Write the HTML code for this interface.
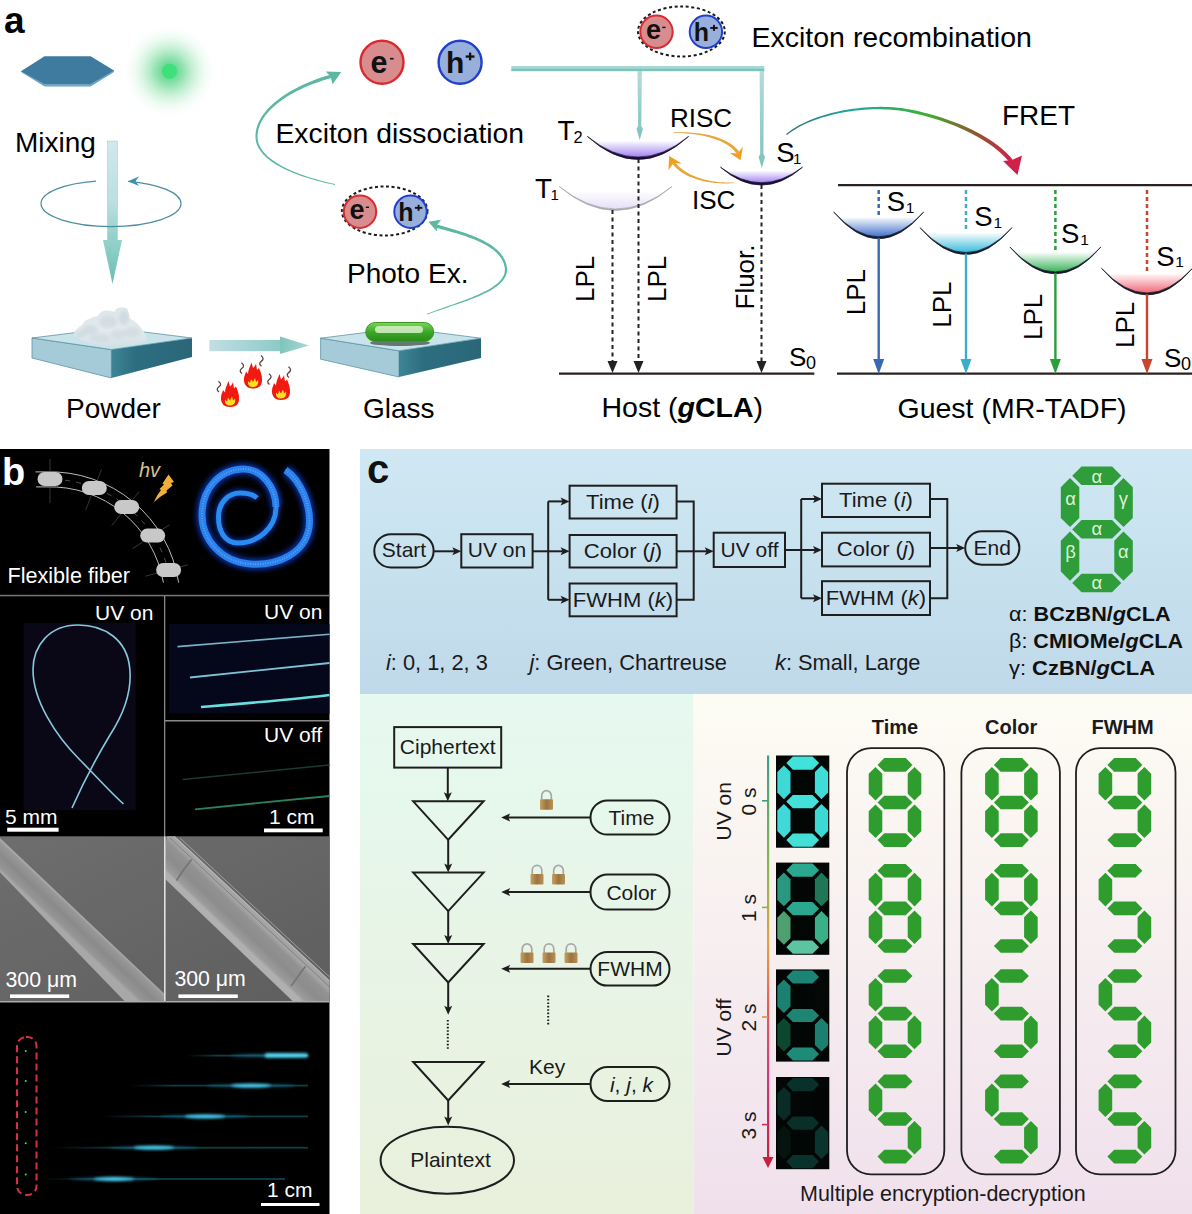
<!DOCTYPE html>
<html><head><meta charset="utf-8"><style>html,body{margin:0;padding:0;background:#fff;}svg{display:block;}</style></head>
<body><svg width="1192" height="1214" viewBox="0 0 1192 1214">
<defs>
<radialGradient id="glow" cx="0.5" cy="0.5" r="0.5"><stop offset="0" stop-color="#30d070" stop-opacity="0.95"/><stop offset="0.3" stop-color="#50d080" stop-opacity="0.6"/><stop offset="0.7" stop-color="#a0e8b8" stop-opacity="0.2"/><stop offset="1" stop-color="#fff" stop-opacity="0"/></radialGradient>
<linearGradient id="rodg" x1="0" y1="0" x2="0" y2="1"><stop offset="0" stop-color="#d2e8ec"/><stop offset="0.6" stop-color="#bcdfe2"/><stop offset="1" stop-color="#90cfc8"/></linearGradient>
<linearGradient id="headg" x1="0" y1="0" x2="0" y2="1"><stop offset="0" stop-color="#94d2ca"/><stop offset="1" stop-color="#68bfb0"/></linearGradient>
<linearGradient id="vrod" x1="0" y1="0" x2="0" y2="1"><stop offset="0" stop-color="#b4dcda"/><stop offset="1" stop-color="#7cc4bc"/></linearGradient>
<linearGradient id="blockR" x1="0" y1="0" x2="1" y2="0"><stop offset="0" stop-color="#3d8596"/><stop offset="0.3" stop-color="#2c6e80"/><stop offset="1" stop-color="#2a6678"/></linearGradient>
<linearGradient id="cloudg" x1="0" y1="0" x2="0" y2="1"><stop offset="0" stop-color="#dde6ea"/><stop offset="0.6" stop-color="#e4eaee"/><stop offset="1" stop-color="#d6e2e6"/></linearGradient>
<linearGradient id="harrow" x1="0" y1="0" x2="1" y2="0"><stop offset="0" stop-color="#c2dee4"/><stop offset="1" stop-color="#8ccac6"/></linearGradient>
<linearGradient id="harrowh" x1="0" y1="0" x2="1" y2="0"><stop offset="0" stop-color="#80c4bc"/><stop offset="1" stop-color="#a8d8d4"/></linearGradient>
<linearGradient id="pillg" x1="0" y1="0" x2="0" y2="1"><stop offset="0" stop-color="#7ad858"/><stop offset="0.5" stop-color="#3aa828"/><stop offset="1" stop-color="#2a8a18"/></linearGradient>
<linearGradient id="fretg" x1="0" y1="0" x2="1" y2="0"><stop offset="0" stop-color="#2a6f7a"/><stop offset="0.3" stop-color="#22a8a0"/><stop offset="0.62" stop-color="#3cb030"/><stop offset="0.85" stop-color="#985030"/><stop offset="1" stop-color="#d02048"/></linearGradient>
<linearGradient id="streak" x1="0" y1="0" x2="1" y2="0"><stop offset="0" stop-color="#0a2a30" stop-opacity="0"/><stop offset="0.25" stop-color="#0e3e48"/><stop offset="1" stop-color="#0e4048"/></linearGradient>
<linearGradient id="lockg" x1="0" y1="0" x2="1" y2="0"><stop offset="0" stop-color="#c8a060"/><stop offset="0.5" stop-color="#9a7440"/><stop offset="1" stop-color="#b89058"/></linearGradient>
<linearGradient id="bluebg" x1="0" y1="0" x2="0" y2="1"><stop offset="0" stop-color="#cfe8f3"/><stop offset="1" stop-color="#c0d9ea"/></linearGradient>
<linearGradient id="greenbg" x1="0" y1="0" x2="0" y2="1"><stop offset="0" stop-color="#e6f9f0"/><stop offset="1" stop-color="#e9f0dc"/></linearGradient>
<linearGradient id="pinkbg" x1="0" y1="0" x2="0" y2="1"><stop offset="0" stop-color="#fdfcf3"/><stop offset="1" stop-color="#f0e0ec"/></linearGradient>
<linearGradient id="tlg" x1="0" y1="0" x2="0" y2="1"><stop offset="0" stop-color="#3aa08c"/><stop offset="0.3" stop-color="#90b848"/><stop offset="0.47" stop-color="#e8a040"/><stop offset="0.62" stop-color="#e06058"/><stop offset="0.8" stop-color="#d03880"/><stop offset="1" stop-color="#c82040"/></linearGradient>
<linearGradient id="semBg" x1="0" y1="0" x2="1" y2="1"><stop offset="0" stop-color="#6e6e6e"/><stop offset="1" stop-color="#5e5e5e"/></linearGradient>
<filter id="blur1" x="-50%" y="-200%" width="200%" height="500%"><feGaussianBlur stdDeviation="1.5"/></filter>
<filter id="blur2" x="-20%" y="-20%" width="140%" height="140%"><feGaussianBlur stdDeviation="2.5"/></filter>
</defs>
<rect width="1192" height="1214" fill="#fff"/>
<text x="3.9" y="33.1" font-family="Liberation Sans" font-size="37" font-weight="bold" fill="#000">a</text>
<polygon points="21,72 44.5,86.5 90.6,86.5 114,72 114,70.5 21,71" fill="#6fa6c4"/>
<polygon points="21,71.3 44.5,56.2 90.6,56.2 114,70.5 90.6,84 44.5,84" fill="#3f7a9f"/>
<circle cx="169.5" cy="71.3" r="48" fill="url(#glow)"/>
<circle cx="169.5" cy="71.3" r="7.5" fill="#3ee07a"/>
<text x="15" y="152" font-family="Liberation Sans" font-size="28">Mixing</text>
<path d="M96,181.1 A70,23 0 0 0 41,203.6" fill="none" stroke="#4a8fa0" stroke-width="1.3"/>
<path d="M128,181.3 A70,23 0 0 1 181,203.6" fill="none" stroke="#4a8fa0" stroke-width="1.3"/>
<rect x="107.4" y="141" width="10" height="100" fill="url(#rodg)" stroke="#a8cfd2" stroke-width="0.6"/>
<polygon points="103,240 122,240 112.5,284" fill="url(#headg)"/>
<path d="M41,203.6 A70,23 0 0 0 181,203.6" fill="none" stroke="#4a8fa0" stroke-width="1.3"/>
<polygon points="128,181.3 139,176.5 135.5,181.3 139,186" fill="#3f8fae"/>
<polygon points="32,338 111.4,349.6 111.4,378 32,358" fill="#a5cbd8" stroke="#5d93a6" stroke-width="0.8"/>
<polygon points="111.4,349.6 192,338 192,357 111.4,378" fill="url(#blockR)"/>
<polygon points="32,338 112,328 192,338 111.4,349.6" fill="#c9e3ea" stroke="#5d93a6" stroke-width="0.8"/>
<path d="M73.4,334.4 C76,329 79,326 81.8,325.2 C84,321 86,320 88.5,319.3 C92,317 95,316.5 97.7,316 C100,312 103,310.5 105.3,310.5 C109,310 112,311.5 114.5,311.8 C116,309 118,307.6 120.4,307.6 C124,307 126,308 127.1,308.4 C129,312 129,316 129.6,318.5 C134,320 137,323 139.7,326 C143,330 146,335 147.2,338.6 C146,341 145,342 143.9,342 C130,345 118,345.3 110.3,345.3 C95,345 80,342 73.4,334.4 Z" fill="url(#cloudg)"/>
<ellipse cx="90" cy="330" rx="8" ry="5" fill="#b4c4cc" opacity="0.35" filter="url(#blur1)"/>
<ellipse cx="108" cy="322" rx="9" ry="6" fill="#b4c4cc" opacity="0.3" filter="url(#blur1)"/>
<ellipse cx="124" cy="318" rx="5" ry="7" fill="#b4c4cc" opacity="0.35" filter="url(#blur1)"/>
<ellipse cx="132" cy="332" rx="9" ry="5" fill="#b4c4cc" opacity="0.3" filter="url(#blur1)"/>
<ellipse cx="100" cy="338" rx="10" ry="4" fill="#b4c4cc" opacity="0.25" filter="url(#blur1)"/>
<ellipse cx="80" cy="334" rx="5" ry="4" fill="#b4c4cc" opacity="0.3" filter="url(#blur1)"/>
<ellipse cx="118" cy="334" rx="7" ry="5" fill="#b4c4cc" opacity="0.25" filter="url(#blur1)"/>
<text x="66" y="418.4" font-family="Liberation Sans" font-size="28">Powder</text>
<rect x="209.4" y="340" width="72" height="11.2" fill="url(#harrow)"/>
<polygon points="280,336.6 309,345.6 280,354" fill="url(#harrowh)"/>
<g transform="translate(230,407)"><path d="M0,0 C-7,0 -9.5,-5 -9,-10 C-8.7,-13 -7.5,-14.5 -7,-17 L-5,-14.5 C-5,-18 -3.5,-21 -1.5,-26 L0,-20.5 C1.5,-22 2.5,-23 3,-25 L4,-18.5 L6,-20.5 C8,-16 9.3,-12 9,-8 C9,-3 6,0 0,0 Z" fill="#f01a10"/><path d="M0,-1.5 C-4,-1.5 -5.5,-4 -5,-7.5 L-3,-5.5 L-2,-9.5 L0,-6.5 L2,-10.5 L3,-6.5 L5,-8.5 C6,-4.5 4,-1.5 0,-1.5 Z" fill="#ffe020"/></g>
<g transform="translate(253,388.6)"><path d="M0,0 C-7,0 -9.5,-5 -9,-10 C-8.7,-13 -7.5,-14.5 -7,-17 L-5,-14.5 C-5,-18 -3.5,-21 -1.5,-26 L0,-20.5 C1.5,-22 2.5,-23 3,-25 L4,-18.5 L6,-20.5 C8,-16 9.3,-12 9,-8 C9,-3 6,0 0,0 Z" fill="#f01a10"/><path d="M0,-1.5 C-4,-1.5 -5.5,-4 -5,-7.5 L-3,-5.5 L-2,-9.5 L0,-6.5 L2,-10.5 L3,-6.5 L5,-8.5 C6,-4.5 4,-1.5 0,-1.5 Z" fill="#ffe020"/></g>
<g transform="translate(281,400)"><path d="M0,0 C-7,0 -9.5,-5 -9,-10 C-8.7,-13 -7.5,-14.5 -7,-17 L-5,-14.5 C-5,-18 -3.5,-21 -1.5,-26 L0,-20.5 C1.5,-22 2.5,-23 3,-25 L4,-18.5 L6,-20.5 C8,-16 9.3,-12 9,-8 C9,-3 6,0 0,0 Z" fill="#f01a10"/><path d="M0,-1.5 C-4,-1.5 -5.5,-4 -5,-7.5 L-3,-5.5 L-2,-9.5 L0,-6.5 L2,-10.5 L3,-6.5 L5,-8.5 C6,-4.5 4,-1.5 0,-1.5 Z" fill="#ffe020"/></g>
<path d="M219,392 c-2.6,-2 -2.2,-3.6 0,-5.2 c2.2,-1.6 2.2,-3.6 -0.6,-5.6" fill="none" stroke="#5a4444" stroke-width="1.3"/>
<path d="M242,373.5 c-2.6,-2 -2.2,-3.6 0,-5.2 c2.2,-1.6 2.2,-3.6 -0.6,-5.6" fill="none" stroke="#5a4444" stroke-width="1.3"/>
<path d="M261.5,366.3 c-2.6,-2 -2.2,-3.6 0,-5.2 c2.2,-1.6 2.2,-3.6 -0.6,-5.6" fill="none" stroke="#5a4444" stroke-width="1.3"/>
<path d="M269.5,384.5 c-2.6,-2 -2.2,-3.6 0,-5.2 c2.2,-1.6 2.2,-3.6 -0.6,-5.6" fill="none" stroke="#5a4444" stroke-width="1.3"/>
<path d="M289,377.6 c-2.6,-2 -2.2,-3.6 0,-5.2 c2.2,-1.6 2.2,-3.6 -0.6,-5.6" fill="none" stroke="#5a4444" stroke-width="1.3"/>
<polygon points="320.6,338.2 399,350.8 399,377 320.6,359.2" fill="#a5cbd8" stroke="#5d93a6" stroke-width="0.8"/>
<polygon points="399,350.8 481,338.2 481,358 399,377" fill="url(#blockR)"/>
<polygon points="320.6,338.2 401,328 481,338.2 399,350.8" fill="#c9e3ea" stroke="#5d93a6" stroke-width="0.8"/>
<ellipse cx="400" cy="343" rx="30" ry="3" fill="#203020" opacity="0.6"/>
<rect x="365.7" y="322.5" width="68" height="19" rx="9.5" fill="url(#pillg)" stroke="#3a9a20" stroke-width="1"/>
<rect x="375" y="326" width="48" height="7" rx="3.5" fill="#d8f0c8" opacity="0.85"/>
<text x="363" y="418" font-family="Liberation Sans" font-size="28">Glass</text>
<circle cx="382" cy="62.3" r="21.5" fill="#d98c8e" stroke="#d82a30" stroke-width="2.4"/><circle cx="460.1" cy="62.3" r="21.5" fill="#98aedb" stroke="#2040cc" stroke-width="2.4"/><text x="370.5" y="72.89999999999999" font-family="Liberation Sans" font-size="30.5" font-weight="bold" fill="#111">e</text><rect x="390" y="57.9" width="3.6" height="1.6" fill="#111"/><text x="446.0" y="72.6" font-family="Liberation Sans" font-size="30" font-weight="bold" fill="#111">h</text><rect x="465.70000000000005" y="55.4" width="8.8" height="2.3" fill="#111"/><rect x="468.95000000000005" y="52.599999999999994" width="2.3" height="7.7" fill="#111"/>
<text x="275.5" y="142.8" font-family="Liberation Sans" font-size="28.3">Exciton dissociation</text>
<path d="M335.09,184.11 L331.10,183.21 L327.12,182.26 L323.16,181.26 L319.23,180.21 L315.34,179.11 L311.49,177.95 L307.71,176.75 L303.98,175.49 L300.34,174.19 L296.77,172.83 L293.31,171.42 L289.94,169.96 L286.69,168.44 L283.56,166.88 L280.56,165.26 L277.71,163.59 L275.00,161.87 L272.45,160.09 L270.08,158.27 L267.88,156.40 L265.87,154.48 L264.06,152.51 L262.45,150.49 L261.05,148.43 L259.88,146.32 L258.93,144.17 L258.21,141.97 L257.74,139.72 L257.51,137.42 L257.54,135.06 L257.82,132.47 L258.31,129.91 L259.02,127.39 L259.94,124.90 L261.06,122.45 L262.37,120.03 L263.87,117.65 L265.55,115.31 L267.40,113.01 L269.42,110.76 L271.59,108.55 L273.92,106.39 L276.39,104.28 L278.99,102.22 L281.72,100.21 L284.57,98.25 L287.52,96.36 L290.59,94.52 L293.74,92.74 L296.99,91.03 L300.31,89.38 L303.70,87.79 L307.16,86.27 L310.67,84.82 L314.23,83.44 L317.83,82.13 L321.45,80.89 L325.10,79.73 L328.77,78.65 L332.46,77.64 L331.54,74.36 L327.83,75.43 L324.12,76.58 L320.42,77.81 L316.74,79.12 L313.10,80.50 L309.50,81.95 L305.94,83.47 L302.44,85.06 L299.01,86.73 L295.64,88.45 L292.36,90.25 L289.16,92.10 L286.05,94.02 L283.05,96.00 L280.16,98.04 L277.38,100.14 L274.73,102.30 L272.22,104.51 L269.84,106.77 L267.62,109.09 L265.55,111.46 L263.65,113.89 L261.92,116.36 L260.38,118.88 L259.03,121.45 L257.88,124.07 L256.93,126.73 L256.21,129.43 L255.72,132.17 L255.46,134.94 L255.46,137.52 L255.74,140.04 L256.29,142.50 L257.10,144.88 L258.16,147.19 L259.44,149.43 L260.95,151.61 L262.68,153.71 L264.60,155.74 L266.71,157.71 L269.01,159.62 L271.47,161.46 L274.10,163.24 L276.88,164.96 L279.81,166.62 L282.87,168.22 L286.06,169.76 L289.37,171.25 L292.78,172.68 L296.30,174.06 L299.90,175.38 L303.59,176.65 L307.35,177.86 L311.17,179.02 L315.05,180.13 L318.97,181.19 L322.92,182.19 L326.91,183.14 L330.91,184.04 L334.91,184.89 Z" fill="#5cb8a2"/>
<polygon points="341.3,72.1 325.7,71.5 330.5,76.5 332.6,84.2" fill="#5cb8a2"/>
<ellipse cx="384.7" cy="211" rx="42.8" ry="24.5" fill="none" stroke="#1a1a1a" stroke-width="2" stroke-dasharray="3,2.6"/>
<circle cx="360" cy="211.7" r="16.2" fill="#d98c8e" stroke="#d82a30" stroke-width="2.0"/><circle cx="410.5" cy="211.7" r="16.2" fill="#98aedb" stroke="#2040cc" stroke-width="2.0"/><text x="349.5" y="219.29999999999998" font-family="Liberation Sans" font-size="27" font-weight="bold" fill="#111">e</text><rect x="365.8" y="206.6" width="3.2" height="1.4" fill="#111"/><text x="398.3" y="220.5" font-family="Liberation Sans" font-size="25" font-weight="bold" fill="#111">h</text><rect x="414.9" y="206.89999999999998" width="7.4" height="1.9" fill="#111"/><rect x="417.65" y="204.79999999999998" width="1.9" height="6" fill="#111"/>
<text x="347" y="283.4" font-family="Liberation Sans" font-size="28">Photo Ex.</text>
<path d="M427.04,314.58 L430.87,313.20 L434.72,311.84 L438.59,310.51 L442.45,309.19 L446.31,307.89 L450.14,306.60 L453.93,305.31 L457.69,304.02 L461.39,302.74 L465.02,301.44 L468.58,300.14 L472.04,298.83 L475.41,297.50 L478.68,296.14 L481.82,294.77 L484.83,293.36 L487.70,291.92 L490.41,290.44 L492.97,288.92 L495.35,287.36 L497.55,285.74 L499.55,284.06 L501.35,282.32 L502.93,280.50 L504.28,278.61 L505.38,276.64 L506.22,274.58 L506.77,272.43 L507.03,270.20 L506.98,267.89 L506.59,265.51 L505.99,263.23 L505.20,261.04 L504.22,258.93 L503.06,256.90 L501.73,254.95 L500.23,253.08 L498.57,251.29 L496.77,249.56 L494.82,247.91 L492.74,246.32 L490.54,244.79 L488.21,243.32 L485.77,241.91 L483.22,240.55 L480.57,239.23 L477.83,237.97 L474.99,236.74 L472.08,235.56 L469.09,234.41 L466.03,233.30 L462.91,232.21 L459.73,231.16 L456.50,230.13 L453.23,229.13 L449.92,228.14 L446.58,227.18 L443.21,226.23 L439.83,225.29 L436.44,224.36 L435.56,227.64 L438.96,228.52 L442.34,229.41 L445.71,230.31 L449.04,231.22 L452.34,232.15 L455.59,233.10 L458.81,234.07 L461.96,235.07 L465.06,236.09 L468.09,237.15 L471.04,238.23 L473.92,239.35 L476.71,240.51 L479.41,241.71 L482.00,242.95 L484.49,244.24 L486.87,245.57 L489.13,246.95 L491.26,248.38 L493.27,249.87 L495.13,251.41 L496.85,253.00 L498.42,254.66 L499.84,256.38 L501.09,258.16 L502.18,260.00 L503.11,261.92 L503.86,263.91 L504.43,265.98 L504.82,268.11 L504.89,270.12 L504.69,272.06 L504.24,273.94 L503.52,275.76 L502.57,277.54 L501.36,279.28 L499.92,280.98 L498.26,282.64 L496.38,284.26 L494.29,285.84 L492.00,287.39 L489.53,288.91 L486.89,290.40 L484.09,291.85 L481.13,293.28 L478.04,294.69 L474.83,296.08 L471.50,297.45 L468.07,298.81 L464.54,300.16 L460.94,301.50 L457.27,302.83 L453.54,304.17 L449.76,305.51 L445.95,306.86 L442.11,308.22 L438.27,309.59 L434.42,310.98 L430.58,312.39 L426.76,313.82 Z" fill="#5cb8a2"/>
<polygon points="428.3,221.8 441.2,219.8 436.5,225.5 437.2,231.7" fill="#5cb8a2"/>
<ellipse cx="681.4" cy="31.5" rx="43.4" ry="25" fill="none" stroke="#1a1a1a" stroke-width="2" stroke-dasharray="3,2.6"/>
<circle cx="656.5" cy="31.8" r="16.2" fill="#d98c8e" stroke="#d82a30" stroke-width="2.0"/><circle cx="705.9" cy="31.8" r="16.2" fill="#98aedb" stroke="#2040cc" stroke-width="2.0"/><text x="646.0" y="39.4" font-family="Liberation Sans" font-size="27" font-weight="bold" fill="#111">e</text><rect x="662.3" y="26.700000000000003" width="3.2" height="1.4" fill="#111"/><text x="693.6999999999999" y="40.6" font-family="Liberation Sans" font-size="25" font-weight="bold" fill="#111">h</text><rect x="710.3" y="27.0" width="7.4" height="1.9" fill="#111"/><rect x="713.05" y="24.9" width="1.9" height="6" fill="#111"/>
<text x="751.5" y="47.3" font-family="Liberation Sans" font-size="28.5">Exciton recombination</text>
<rect x="511.3" y="66" width="253" height="2.6" fill="#a6d8d4"/>
<rect x="511.3" y="68.4" width="253" height="2.8" fill="#7cc4bc"/>
<polygon points="637.5,71 641.9000000000001,71 641.3000000000001,126 642.9000000000001,129 639.7,140 636.5,129 638.1,126" fill="url(#vrod)"/>
<polygon points="759.5999999999999,71 764.0,71 763.4,154 765.0,157 761.8,168 758.5999999999999,157 760.1999999999999,154" fill="url(#vrod)"/>
<defs><linearGradient id="pg6380_1364" x1="0" y1="0" x2="0" y2="1"><stop offset="0" stop-color="#9a7af0" stop-opacity="0"/><stop offset="0.2" stop-color="#9a7af0" stop-opacity="0"/><stop offset="0.28" stop-color="#9a7af0" stop-opacity="0.12"/><stop offset="1" stop-color="#9a7af0" stop-opacity="1.0"/></linearGradient></defs><path d="M587.4,136.4 Q638,180.20000000000002 688.6,136.4 Z" fill="url(#pg6380_1364)"/><path d="M587.4,136.4 Q638,182.60000000000002 688.6,136.4 Q638,177.8 587.4,136.4 Z" fill="#1a0f30" stroke="#1a0f30" stroke-width="0.7"/>
<defs><linearGradient id="pg6156_1865" x1="0" y1="0" x2="0" y2="1"><stop offset="0" stop-color="#c4b4f0" stop-opacity="0"/><stop offset="0.2" stop-color="#c4b4f0" stop-opacity="0"/><stop offset="0.28" stop-color="#c4b4f0" stop-opacity="0.054"/><stop offset="1" stop-color="#c4b4f0" stop-opacity="0.45"/></linearGradient></defs><path d="M559.2,186.5 Q615.6,232.89999999999998 672.0,186.5 Z" fill="url(#pg6156_1865)"/><path d="M559.2,186.5 Q615.6,234.29999999999998 672.0,186.5 Q615.6,231.49999999999997 559.2,186.5 Z" fill="#a8a8b0" stroke="#a8a8b0" stroke-width="0.7"/>
<defs><linearGradient id="pg7615_1672" x1="0" y1="0" x2="0" y2="1"><stop offset="0" stop-color="#9a7af0" stop-opacity="0"/><stop offset="0.2" stop-color="#9a7af0" stop-opacity="0"/><stop offset="0.28" stop-color="#9a7af0" stop-opacity="0.12"/><stop offset="1" stop-color="#9a7af0" stop-opacity="1.0"/></linearGradient></defs><path d="M720.5,167.2 Q761.5,200.60000000000002 802.5,167.2 Z" fill="url(#pg7615_1672)"/><path d="M720.5,167.2 Q761.5,203.00000000000003 802.5,167.2 Q761.5,198.20000000000002 720.5,167.2 Z" fill="#1a0f30" stroke="#1a0f30" stroke-width="0.7"/>
<text x="557.6" y="139.7" font-family="Liberation Sans" font-size="27.8">T</text><text x="573.5" y="142.7" font-family="Liberation Sans" font-size="16.4">2</text>
<text x="535" y="198.1" font-family="Liberation Sans" font-size="27.8">T</text><text x="550.6" y="200.1" font-family="Liberation Sans" font-size="15">1</text>
<text x="776.2" y="162.4" font-family="Liberation Sans" font-size="27.5">S</text><text x="792.9" y="164.2" font-family="Liberation Sans" font-size="15">1</text>
<text x="670" y="127" font-family="Liberation Sans" font-size="26">RISC</text>
<text x="692" y="209" font-family="Liberation Sans" font-size="26">ISC</text>
<path d="M673.40,132.90 L676.07,132.91 L678.73,132.97 L681.39,133.07 L684.05,133.21 L686.69,133.41 L689.32,133.65 L691.94,133.93 L694.53,134.26 L697.09,134.64 L699.62,135.07 L702.12,135.54 L704.57,136.07 L706.98,136.64 L709.34,137.26 L711.64,137.93 L713.89,138.65 L716.07,139.42 L718.19,140.24 L720.23,141.11 L722.20,142.03 L724.08,143.00 L725.88,144.02 L727.59,145.08 L729.20,146.20 L730.71,147.36 L732.12,148.57 L733.43,149.83 L734.62,151.14 L735.70,152.49 L736.70,153.94 L739.30,152.06 L738.18,150.57 L736.91,149.10 L735.53,147.70 L734.05,146.37 L732.47,145.11 L730.79,143.92 L729.03,142.80 L727.18,141.73 L725.25,140.73 L723.24,139.79 L721.16,138.91 L719.01,138.09 L716.80,137.33 L714.53,136.62 L712.21,135.97 L709.83,135.37 L707.40,134.83 L704.93,134.34 L702.42,133.90 L699.87,133.51 L697.30,133.17 L694.69,132.88 L692.07,132.65 L689.42,132.46 L686.76,132.32 L684.09,132.22 L681.42,132.17 L678.74,132.17 L676.06,132.21 L673.40,132.30 Z" fill="#e8a63a"/>
<polygon points="740.5,160.3 729.6,152.7 737.5,153.5 743,146.8" fill="#f0a020"/>
<path d="M733.79,182.60 L730.94,182.62 L728.13,182.59 L725.38,182.50 L722.68,182.35 L720.03,182.14 L717.44,181.88 L714.89,181.56 L712.41,181.19 L709.98,180.76 L707.62,180.28 L705.31,179.75 L703.06,179.17 L700.87,178.54 L698.75,177.86 L696.69,177.13 L694.70,176.36 L692.77,175.53 L690.92,174.67 L689.13,173.75 L687.41,172.80 L685.76,171.80 L684.19,170.76 L682.69,169.68 L681.26,168.56 L679.91,167.40 L678.63,166.21 L677.43,164.98 L676.31,163.71 L675.27,162.41 L674.28,161.04 L671.72,162.96 L672.81,164.35 L674.01,165.73 L675.28,167.06 L676.62,168.34 L678.04,169.57 L679.54,170.75 L681.10,171.88 L682.74,172.96 L684.44,173.99 L686.21,174.97 L688.04,175.90 L689.94,176.78 L691.90,177.60 L693.92,178.37 L696.01,179.09 L698.15,179.76 L700.35,180.37 L702.61,180.93 L704.93,181.43 L707.30,181.88 L709.73,182.27 L712.21,182.61 L714.74,182.89 L717.32,183.11 L719.95,183.27 L722.63,183.38 L725.36,183.42 L728.13,183.41 L730.95,183.34 L733.81,183.20 Z" fill="#e8a63a"/>
<polygon points="669.2,156 668.4,170.3 673.5,163 681.8,163.6" fill="#f0a020"/>
<line x1="612.5" y1="210" x2="612.5" y2="366" stroke="#222" stroke-width="2" stroke-dasharray="4,3.5"/>
<polygon points="607.5,361 617.5,361 612.5,373" fill="#222"/>
<line x1="638.5" y1="159" x2="638.5" y2="366" stroke="#222" stroke-width="2" stroke-dasharray="4,3.5"/>
<polygon points="633.5,361 643.5,361 638.5,373" fill="#222"/>
<line x1="761.5" y1="185" x2="761.5" y2="366" stroke="#222" stroke-width="2" stroke-dasharray="4,3.5"/>
<polygon points="756.5,361 766.5,361 761.5,373" fill="#222"/>
<line x1="559" y1="373.7" x2="814.3" y2="373.7" stroke="#2a1e1e" stroke-width="2.2"/>
<text transform="translate(594,302) rotate(-90)" font-family="Liberation Sans" font-size="26">LPL</text>
<text transform="translate(666,302) rotate(-90)" font-family="Liberation Sans" font-size="26">LPL</text>
<text transform="translate(754,309.5) rotate(-90)" font-family="Liberation Sans" font-size="26">Fluor.</text>
<text x="789" y="366" font-family="Liberation Sans" font-size="26">S</text><text x="806" y="369" font-family="Liberation Sans" font-size="18">0</text>
<text x="601.5" y="416.5" font-family="Liberation Sans" font-size="28.5">Host (<tspan font-weight="bold" font-style="italic">g</tspan><tspan font-weight="bold">CLA</tspan>)</text>
<path d="M786.86,134.88 L789.79,132.71 L792.87,130.65 L796.09,128.69 L799.44,126.82 L802.92,125.04 L806.52,123.36 L810.23,121.77 L814.04,120.28 L817.94,118.89 L821.92,117.59 L825.98,116.38 L830.10,115.27 L834.27,114.26 L838.49,113.34 L842.74,112.51 L847.03,111.78 L851.33,111.14 L855.64,110.59 L859.95,110.14 L864.25,109.79 L868.54,109.53 L872.80,109.36 L877.02,109.28 L881.19,109.30 L885.31,109.41 L889.37,109.61 L893.36,109.91 L897.26,110.29 L901.07,110.77 L904.77,111.34 L909.23,112.20 L913.67,113.14 L918.09,114.16 L922.48,115.25 L926.84,116.41 L931.15,117.64 L935.42,118.94 L939.65,120.30 L943.81,121.72 L947.92,123.21 L951.96,124.75 L955.93,126.35 L959.82,128.01 L963.64,129.72 L967.36,131.47 L971.00,133.28 L974.54,135.13 L977.97,137.03 L981.30,138.96 L984.52,140.94 L987.62,142.95 L990.59,145.00 L993.44,147.08 L996.15,149.19 L998.73,151.32 L1001.16,153.48 L1003.44,155.66 L1005.57,157.86 L1007.54,160.07 L1009.38,162.33 L1012.62,159.67 L1010.69,157.35 L1008.58,155.03 L1006.30,152.74 L1003.88,150.48 L1001.32,148.26 L998.61,146.08 L995.78,143.93 L992.81,141.82 L989.73,139.75 L986.52,137.73 L983.20,135.74 L979.77,133.80 L976.24,131.91 L972.61,130.07 L968.89,128.28 L965.08,126.53 L961.18,124.85 L957.21,123.22 L953.16,121.64 L949.04,120.13 L944.86,118.67 L940.63,117.28 L936.34,115.96 L932.00,114.70 L927.62,113.51 L923.20,112.39 L918.74,111.34 L914.26,110.37 L909.76,109.48 L905.23,108.66 L901.43,108.12 L897.54,107.68 L893.56,107.33 L889.51,107.08 L885.39,106.93 L881.22,106.87 L876.99,106.90 L872.71,107.03 L868.41,107.26 L864.08,107.57 L859.74,107.99 L855.38,108.50 L851.04,109.10 L846.70,109.80 L842.38,110.59 L838.09,111.48 L833.84,112.46 L829.64,113.54 L825.49,114.71 L821.41,115.98 L817.40,117.35 L813.48,118.80 L809.64,120.36 L805.91,122.01 L802.29,123.76 L798.78,125.60 L795.40,127.54 L792.16,129.57 L789.07,131.70 L786.14,133.92 Z" fill="url(#fretg)"/>
<polygon points="1017.5,175 1003,161 1012,160 1022,155.5" fill="#d0204a"/>
<text x="1002" y="125.2" font-family="Liberation Sans" font-size="28">FRET</text>
<line x1="838" y1="185.2" x2="1192" y2="185.2" stroke="#2a2222" stroke-width="2.2"/>
<line x1="837" y1="373.6" x2="1192" y2="373.6" stroke="#2a2222" stroke-width="2.2"/>
<line x1="878.7" y1="190" x2="878.7" y2="215" stroke="#3a68b0" stroke-width="2.5" stroke-dasharray="4,3"/>
<defs><linearGradient id="pg8787_2120" x1="0" y1="0" x2="0" y2="1"><stop offset="0" stop-color="#3a6ac8" stop-opacity="0"/><stop offset="0.2" stop-color="#3a6ac8" stop-opacity="0"/><stop offset="0.28" stop-color="#3a6ac8" stop-opacity="0.12"/><stop offset="1" stop-color="#3a6ac8" stop-opacity="1.0"/></linearGradient></defs><path d="M833.7,212 Q878.7,263.6 923.7,212 Z" fill="url(#pg8787_2120)"/><path d="M833.7,212 Q878.7,265.6 923.7,212 Q878.7,261.6 833.7,212 Z" fill="#141828" stroke="#141828" stroke-width="0.7"/>
<line x1="878.7" y1="237.8" x2="878.7" y2="362" stroke="#3a68b0" stroke-width="2.4"/>
<polygon points="873.2,359 884.2,359 878.7,374" fill="#3a68b0"/>
<text x="886.7" y="211" font-family="Liberation Sans" font-size="27.5">S</text><text x="905.8" y="212.9" font-family="Liberation Sans" font-size="15.5">1</text>
<text transform="translate(865.3,315.2) rotate(-90)" font-family="Liberation Sans" font-size="26">LPL</text>
<line x1="966" y1="190" x2="966" y2="230.7" stroke="#3ab0c8" stroke-width="2.5" stroke-dasharray="4,3"/>
<defs><linearGradient id="pg9660_2277" x1="0" y1="0" x2="0" y2="1"><stop offset="0" stop-color="#30b8d8" stop-opacity="0"/><stop offset="0.2" stop-color="#30b8d8" stop-opacity="0"/><stop offset="0.28" stop-color="#30b8d8" stop-opacity="0.12"/><stop offset="1" stop-color="#30b8d8" stop-opacity="1.0"/></linearGradient></defs><path d="M920,227.7 Q966,279.3 1012,227.7 Z" fill="url(#pg9660_2277)"/><path d="M920,227.7 Q966,281.3 1012,227.7 Q966,277.3 920,227.7 Z" fill="#141828" stroke="#141828" stroke-width="0.7"/>
<line x1="966" y1="253.5" x2="966" y2="362" stroke="#3ab0c8" stroke-width="2.4"/>
<polygon points="960.5,359 971.5,359 966,374" fill="#3ab0c8"/>
<text x="974.3000000000001" y="225.8" font-family="Liberation Sans" font-size="27.5">S</text><text x="993.4" y="227.70000000000002" font-family="Liberation Sans" font-size="15.5">1</text>
<text transform="translate(951,327.7) rotate(-90)" font-family="Liberation Sans" font-size="26">LPL</text>
<line x1="1055.4" y1="190" x2="1055.4" y2="250" stroke="#27a03a" stroke-width="2.5" stroke-dasharray="4,3"/>
<defs><linearGradient id="pg10554_2470" x1="0" y1="0" x2="0" y2="1"><stop offset="0" stop-color="#30b050" stop-opacity="0"/><stop offset="0.2" stop-color="#30b050" stop-opacity="0"/><stop offset="0.28" stop-color="#30b050" stop-opacity="0.12"/><stop offset="1" stop-color="#30b050" stop-opacity="1.0"/></linearGradient></defs><path d="M1009.9000000000001,247 Q1055.4,298.79999999999995 1100.9,247 Z" fill="url(#pg10554_2470)"/><path d="M1009.9000000000001,247 Q1055.4,300.79999999999995 1100.9,247 Q1055.4,296.79999999999995 1009.9000000000001,247 Z" fill="#141828" stroke="#141828" stroke-width="0.7"/>
<line x1="1055.4" y1="272.9" x2="1055.4" y2="362" stroke="#27a03a" stroke-width="2.4"/>
<polygon points="1049.9,359 1060.9,359 1055.4,374" fill="#27a03a"/>
<text x="1061.1000000000001" y="243.3" font-family="Liberation Sans" font-size="27.5">S</text><text x="1080.2" y="245.20000000000002" font-family="Liberation Sans" font-size="15.5">1</text>
<text transform="translate(1041.6,340) rotate(-90)" font-family="Liberation Sans" font-size="26">LPL</text>
<line x1="1147" y1="190" x2="1147" y2="271.3" stroke="#c8442c" stroke-width="2.5" stroke-dasharray="4,3"/>
<defs><linearGradient id="pg11470_2683" x1="0" y1="0" x2="0" y2="1"><stop offset="0" stop-color="#f06070" stop-opacity="0"/><stop offset="0.2" stop-color="#f06070" stop-opacity="0"/><stop offset="0.28" stop-color="#f06070" stop-opacity="0.12"/><stop offset="1" stop-color="#f06070" stop-opacity="1.0"/></linearGradient></defs><path d="M1101.5,268.3 Q1147,319.7 1192.5,268.3 Z" fill="url(#pg11470_2683)"/><path d="M1101.5,268.3 Q1147,321.7 1192.5,268.3 Q1147,317.7 1101.5,268.3 Z" fill="#141828" stroke="#141828" stroke-width="0.7"/>
<line x1="1147" y1="294" x2="1147" y2="362" stroke="#c8442c" stroke-width="2.4"/>
<polygon points="1141.5,359 1152.5,359 1147,374" fill="#c8442c"/>
<text x="1156.2" y="265.5" font-family="Liberation Sans" font-size="27.5">S</text><text x="1175.3" y="267.4" font-family="Liberation Sans" font-size="15.5">1</text>
<text transform="translate(1133.7,348) rotate(-90)" font-family="Liberation Sans" font-size="26">LPL</text>
<text x="1164" y="366.7" font-family="Liberation Sans" font-size="26">S</text><text x="1181" y="369.7" font-family="Liberation Sans" font-size="18">0</text>
<text x="897.5" y="418" font-family="Liberation Sans" font-size="28.5">Guest (MR-TADF)</text>
<rect x="0" y="449" width="329.5" height="765" fill="#000"/>
<text x="2" y="485" font-family="Liberation Sans" font-size="38" font-weight="bold" fill="#fff">b</text>
<path d="M35.5,471.9 L45.5,471.9 A130,130 0 0 1 178.6,582.6" fill="none" stroke="#bbb" stroke-width="1"/>
<path d="M36.0,486.9 L46.0,486.9 A115,115 0 0 1 163.4,582.6" fill="none" stroke="#bbb" stroke-width="1"/>
<path d="M54.3,479.4 A122.5,122.5 0 0 1 168.9,572.2" fill="none" stroke="#666" stroke-width="0.8" stroke-dasharray="5,6"/>
<line x1="50.0" y1="503.1" x2="50.0" y2="459.0" stroke="#5a5a5a" stroke-width="0.6"/>
<rect x="37.5" y="472" width="25" height="14" rx="7" fill="#c8c8c8"/>
<line x1="85.6" y1="510.3" x2="101.5" y2="469.4" stroke="#5a5a5a" stroke-width="0.6"/>
<rect x="81.8" y="481" width="25" height="14" rx="7" fill="#c8c8c8"/>
<line x1="111.7" y1="525.6" x2="139.2" y2="491.5" stroke="#5a5a5a" stroke-width="0.6"/>
<rect x="114.2" y="500" width="25" height="14" rx="7" fill="#c8c8c8"/>
<line x1="132.6" y1="548.6" x2="169.5" y2="524.8" stroke="#5a5a5a" stroke-width="0.6"/>
<rect x="140.2" y="528.6" width="25" height="14" rx="7" fill="#c8c8c8"/>
<line x1="145.4" y1="576.2" x2="188.0" y2="564.8" stroke="#5a5a5a" stroke-width="0.6"/>
<rect x="156.1" y="563" width="25" height="14" rx="7" fill="#c8c8c8"/>
<text x="139" y="477" font-family="Liberation Sans" font-size="20" font-style="italic" fill="#dcc088">hv</text>
<path d="M168.5,474.6 L174,482 L171,483 L172.5,485.5 L166.5,490.5 L167,492.5 L160,497 L153.7,502.3 L157.5,495 L161,490 L159.5,489 L164,484.5 L162.5,483.5 Z" fill="#f0b038"/>
<text x="7.5" y="582.6" font-family="Liberation Sans" font-size="21.6" fill="#fff">Flexible fiber</text>
<path d="M285.5,470 C300,480 312,505 309,528 C305,552 280,566 250,564 C222,562 202,540 202,515 C202,488 220,470 242,469 C262,468 276,488 276,507" fill="none" stroke="#1040d0" stroke-width="12" opacity="0.7" filter="url(#blur2)"/>
<path d="M276,507 C276,528 258,543 238,543 C224,543 218.5,530 218.5,517 C218.5,503 228,493 240,493 C248,493 254,495 257,498" fill="none" stroke="#1040d0" stroke-width="8" opacity="0.7" filter="url(#blur2)"/>
<path d="M285.5,470 C300,480 312,505 309,528 C305,552 280,566 250,564 C222,562 202,540 202,515 C202,488 220,470 242,469 C262,468 276,488 276,507" fill="none" stroke="#2a80ec" stroke-width="7"/>
<path d="M276,507 C276,528 258,543 238,543 C224,543 218.5,530 218.5,517 C218.5,503 228,493 240,493 C248,493 254,495 257,498" fill="none" stroke="#2a8cf0" stroke-width="5"/>
<path d="M285.5,470 C300,480 312,505 309,528 C305,552 280,566 250,564 C222,562 202,540 202,515 C202,488 220,470 242,469 C262,468 276,488 276,507" fill="none" stroke="#70c0ff" stroke-width="2" opacity="0.6" stroke-dasharray="1,1.5"/>
<rect x="0" y="594.8" width="329.5" height="1.5" fill="#777"/>
<rect x="23.7" y="623" width="112" height="187" fill="#0a0816"/>
<path d="M72,808 C80,790 95,760 110,735 C125,712 132,690 129.7,668 C127,640 105,625 78,625 C50,625 33,645 33,670 C33,700 55,735 80,760 C95,775 110,792 123.5,804" fill="none" stroke="#86c8dc" stroke-width="1.6"/>
<text x="95" y="619.8" font-family="Liberation Sans" font-size="21" fill="#fff">UV on</text>
<text x="5" y="823.6" font-family="Liberation Sans" font-size="21" fill="#fff">5 mm</text>
<rect x="7.2" y="827.7" width="51.4" height="4" fill="#fff"/>
<rect x="164" y="596" width="1.3" height="406" fill="#888"/>
<rect x="169" y="624" width="160.5" height="89.5" fill="#05081a"/>
<line x1="177.5" y1="646.6" x2="329.5" y2="634.3" stroke="#7ab2c8" stroke-width="1.6"/>
<line x1="189.9" y1="677.5" x2="329.5" y2="663" stroke="#7ec2d4" stroke-width="1.8"/>
<path d="M201,707 C250,703 300,699 329.5,695" fill="none" stroke="#68dede" stroke-width="2.6"/>
<text x="264" y="618.8" font-family="Liberation Sans" font-size="21" fill="#fff">UV on</text>
<rect x="164.6" y="720" width="165" height="1.5" fill="#888"/>
<text x="264" y="742.4" font-family="Liberation Sans" font-size="21" fill="#fff">UV off</text>
<line x1="182.6" y1="779.5" x2="329.5" y2="765" stroke="#1c3a30" stroke-width="1.5"/>
<line x1="195" y1="809.3" x2="329.5" y2="796" stroke="#2c8060" stroke-width="1.8"/>
<text x="269" y="823.7" font-family="Liberation Sans" font-size="21" fill="#fff">1 cm</text>
<rect x="264" y="828.5" width="58.7" height="3.8" fill="#fff"/>
<rect x="0" y="836.3" width="329.5" height="165.7" fill="url(#semBg)"/>
<defs><clipPath id="semL"><rect x="0" y="836.3" width="164.5" height="165.7"/></clipPath><clipPath id="semR"><rect x="165.5" y="836.3" width="164" height="165.7"/></clipPath><linearGradient id="bandL" gradientUnits="userSpaceOnUse" x1="0" y1="838" x2="-16.5" y2="855.5"><stop offset="0" stop-color="#b0b0b0"/><stop offset="0.12" stop-color="#989898"/><stop offset="0.5" stop-color="#8a8a8a"/><stop offset="0.88" stop-color="#969696"/><stop offset="1" stop-color="#a8a8a8"/></linearGradient><linearGradient id="bandR" gradientUnits="userSpaceOnUse" x1="191.6" y1="859.4" x2="173" y2="879"><stop offset="0" stop-color="#a4a4a4"/><stop offset="0.15" stop-color="#929292"/><stop offset="0.55" stop-color="#8c8c8c"/><stop offset="0.9" stop-color="#9c9c9c"/><stop offset="1" stop-color="#b0b0b0"/></linearGradient><filter id="soft" x="-5%" y="-5%" width="110%" height="110%"><feGaussianBlur stdDeviation="0.7"/></filter></defs>
<g clip-path="url(#semL)"><polygon points="-10,828.5 174.6,1003.5 135,1012 -10,862" fill="url(#bandL)" filter="url(#soft)"/></g>
<g clip-path="url(#semR)"><polygon points="168,830 340,991 340,1012 304,1012 160,874" fill="url(#bandR)" filter="url(#soft)"/><line x1="174" y1="836.3" x2="335" y2="986" stroke="#b4b4b4" stroke-width="1.3"/><line x1="170" y1="838" x2="335" y2="992" stroke="#808080" stroke-width="1"/><line x1="180" y1="838" x2="335" y2="982" stroke="#a0a0a0" stroke-width="1"/><path d="M191.6,859.4 C186,866 181,873 176.5,880.5" stroke="#727272" stroke-width="1.6" fill="none"/><path d="M305.4,966.5 C300,973 296,980 291,986" stroke="#727272" stroke-width="1.6" fill="none"/></g>
<rect x="164" y="836.3" width="1.6" height="165.7" fill="#e0e0e0"/>
<text x="5.5" y="986.5" font-family="Liberation Sans" font-size="21.3" fill="#fff">300 μm</text>
<rect x="10" y="994.4" width="59.2" height="3.6" fill="#fff"/>
<text x="174.4" y="986.4" font-family="Liberation Sans" font-size="21.3" fill="#fff">300 μm</text>
<rect x="178.4" y="994.4" width="59.4" height="3.6" fill="#fff"/>
<rect x="0" y="1001" width="329.5" height="1.5" fill="#aaa"/>
<rect x="17" y="1037" width="19.5" height="158" rx="9" fill="none" stroke="#d83040" stroke-width="2" stroke-dasharray="7,4"/>
<circle cx="25.7" cy="1051.1" r="1" fill="#40e060"/>
<rect x="185" y="1054.6999999999998" width="123" height="1.8" fill="url(#streak)"/>
<circle cx="25.7" cy="1081.1" r="1" fill="#40e060"/>
<rect x="128" y="1084.6999999999998" width="180" height="1.8" fill="url(#streak)"/>
<ellipse cx="251" cy="1085.6" rx="45" ry="1.5" fill="#1a7090" opacity="0.7" filter="url(#blur1)"/>
<ellipse cx="251" cy="1085.6" rx="20" ry="1.9" fill="#50d4f6" opacity="0.95" filter="url(#blur1)"/>
<circle cx="25.7" cy="1111.9" r="1" fill="#40e060"/>
<rect x="100" y="1115.5" width="208" height="1.8" fill="url(#streak)"/>
<ellipse cx="205" cy="1116.4" rx="45" ry="1.5" fill="#1a7090" opacity="0.7" filter="url(#blur1)"/>
<ellipse cx="205" cy="1116.4" rx="20" ry="1.9" fill="#50d4f6" opacity="0.95" filter="url(#blur1)"/>
<circle cx="25.7" cy="1143.2" r="1" fill="#40e060"/>
<rect x="48.5" y="1146.8" width="259.5" height="1.8" fill="url(#streak)"/>
<ellipse cx="154" cy="1147.7" rx="45" ry="1.5" fill="#1a7090" opacity="0.7" filter="url(#blur1)"/>
<ellipse cx="154" cy="1147.7" rx="20" ry="1.9" fill="#50d4f6" opacity="0.95" filter="url(#blur1)"/>
<circle cx="25.7" cy="1174.5" r="1" fill="#40e060"/>
<rect x="40" y="1178.1" width="245" height="1.8" fill="url(#streak)"/>
<ellipse cx="114" cy="1179" rx="45" ry="1.5" fill="#1a7090" opacity="0.7" filter="url(#blur1)"/>
<ellipse cx="114" cy="1179" rx="20" ry="1.9" fill="#50d4f6" opacity="0.95" filter="url(#blur1)"/>
<ellipse cx="268" cy="1055.6" rx="38" ry="1.6" fill="#1a7090" opacity="0.7" filter="url(#blur1)"/>
<rect x="265" y="1053.3" width="43" height="4.2" rx="1.5" fill="#5cdcfa" filter="url(#blur1)"/>
<text x="267" y="1196.8" font-family="Liberation Sans" font-size="21" fill="#fff">1 cm</text>
<rect x="261" y="1203" width="58.5" height="3" fill="#fff"/>
<rect x="360" y="449" width="832" height="245" fill="url(#bluebg)"/>
<rect x="360" y="694" width="333.5" height="520" fill="url(#greenbg)"/>
<rect x="693.5" y="694" width="498.5" height="520" fill="url(#pinkbg)"/>
<text x="367" y="483.1" font-family="Liberation Sans" font-size="40" font-weight="bold" fill="#111">c</text>
<rect x="374.3" y="534.2" width="59.3" height="33.3" rx="16.6" fill="none" stroke="#1e1e1e" stroke-width="2"/>
<text x="404" y="557" font-family="Liberation Sans" font-size="21" text-anchor="middle" fill="#1a1a1a" >Start</text>
<line x1="433.6" y1="551.3" x2="455.3" y2="551.3" stroke="#1e1e1e" stroke-width="2"/><polygon points="461.3,551.3 452.3,547.3 454.3,551.3 452.3,555.3" fill="#1e1e1e"/>
<rect x="461.3" y="534.2" width="71.3" height="33.3" rx="0" fill="none" stroke="#1e1e1e" stroke-width="2"/>
<text x="497" y="557" font-family="Liberation Sans" font-size="21" text-anchor="middle" fill="#1a1a1a" >UV on</text>
<line x1="532.6" y1="551.3" x2="548.2" y2="551.3" stroke="#1e1e1e" stroke-width="2"/>
<line x1="548.2" y1="501.4" x2="548.2" y2="599.8" stroke="#1e1e1e" stroke-width="2"/>
<line x1="548.2" y1="501.4" x2="563.6" y2="501.4" stroke="#1e1e1e" stroke-width="2"/><polygon points="569.6,501.4 560.6,497.4 562.6,501.4 560.6,505.4" fill="#1e1e1e"/>
<line x1="548.2" y1="551.3" x2="563.6" y2="551.3" stroke="#1e1e1e" stroke-width="2"/><polygon points="569.6,551.3 560.6,547.3 562.6,551.3 560.6,555.3" fill="#1e1e1e"/>
<line x1="548.2" y1="599.8" x2="563.6" y2="599.8" stroke="#1e1e1e" stroke-width="2"/><polygon points="569.6,599.8 560.6,595.8 562.6,599.8 560.6,603.8" fill="#1e1e1e"/>
<rect x="569.6" y="485.7" width="107.0" height="32.8" rx="0" fill="none" stroke="#1e1e1e" stroke-width="2"/>
<text transform="translate(623,508.5) scale(1.05,1)" x="0" y="0" font-family="Liberation Sans" font-size="21" text-anchor="middle" fill="#1a1a1a" >Time (<tspan font-style="italic">i</tspan>)</text>
<rect x="569.6" y="535" width="107.0" height="32.5" rx="0" fill="none" stroke="#1e1e1e" stroke-width="2"/>
<text transform="translate(623,557.5) scale(1.05,1)" x="0" y="0" font-family="Liberation Sans" font-size="21" text-anchor="middle" fill="#1a1a1a" >Color (<tspan font-style="italic">j</tspan>)</text>
<rect x="569.6" y="583.5" width="107.0" height="32.8" rx="0" fill="none" stroke="#1e1e1e" stroke-width="2"/>
<text transform="translate(623,606.5) scale(1.05,1)" x="0" y="0" font-family="Liberation Sans" font-size="21" text-anchor="middle" fill="#1a1a1a" >FWHM (<tspan font-style="italic">k</tspan>)</text>
<polyline points="676.6,501.4 693.7,501.4 693.7,599.8 676.6,599.8" fill="none" stroke="#1e1e1e" stroke-width="2"/>
<line x1="676.6" y1="551.3" x2="707.7" y2="551.3" stroke="#1e1e1e" stroke-width="2"/><polygon points="713.7,551.3 704.7,547.3 706.7,551.3 704.7,555.3" fill="#1e1e1e"/>
<rect x="713.7" y="532.7" width="71.3" height="34.3" rx="0" fill="none" stroke="#1e1e1e" stroke-width="2"/>
<text x="749.5" y="557" font-family="Liberation Sans" font-size="21" text-anchor="middle" fill="#1a1a1a" >UV off</text>
<line x1="785" y1="550" x2="801.2" y2="550" stroke="#1e1e1e" stroke-width="2"/>
<line x1="801.2" y1="499" x2="801.2" y2="598.3" stroke="#1e1e1e" stroke-width="2"/>
<line x1="801.2" y1="499" x2="816" y2="499" stroke="#1e1e1e" stroke-width="2"/><polygon points="822,499 813,495 815,499 813,503" fill="#1e1e1e"/>
<line x1="801.2" y1="550" x2="816" y2="550" stroke="#1e1e1e" stroke-width="2"/><polygon points="822,550 813,546 815,550 813,554" fill="#1e1e1e"/>
<line x1="801.2" y1="598.3" x2="816" y2="598.3" stroke="#1e1e1e" stroke-width="2"/><polygon points="822,598.3 813,594.3 815,598.3 813,602.3" fill="#1e1e1e"/>
<rect x="822" y="483.7" width="108.0" height="33.3" rx="0" fill="none" stroke="#1e1e1e" stroke-width="2"/>
<text transform="translate(876,506.5) scale(1.05,1)" x="0" y="0" font-family="Liberation Sans" font-size="21" text-anchor="middle" fill="#1a1a1a" >Time (<tspan font-style="italic">i</tspan>)</text>
<rect x="822" y="532.7" width="108.0" height="33.7" rx="0" fill="none" stroke="#1e1e1e" stroke-width="2"/>
<text transform="translate(876,556) scale(1.05,1)" x="0" y="0" font-family="Liberation Sans" font-size="21" text-anchor="middle" fill="#1a1a1a" >Color (<tspan font-style="italic">j</tspan>)</text>
<rect x="822" y="581.2" width="108.0" height="33.8" rx="0" fill="none" stroke="#1e1e1e" stroke-width="2"/>
<text transform="translate(876,605) scale(1.05,1)" x="0" y="0" font-family="Liberation Sans" font-size="21" text-anchor="middle" fill="#1a1a1a" >FWHM (<tspan font-style="italic">k</tspan>)</text>
<polyline points="930,499 947.3,499 947.3,598.3 930,598.3" fill="none" stroke="#1e1e1e" stroke-width="2"/>
<line x1="930" y1="548" x2="959.2" y2="548" stroke="#1e1e1e" stroke-width="2"/><polygon points="965.2,548 956.2,544 958.2,548 956.2,552" fill="#1e1e1e"/>
<rect x="965.2" y="531.3" width="54.2" height="33.4" rx="16.7" fill="none" stroke="#1e1e1e" stroke-width="2"/>
<text x="992.3" y="555" font-family="Liberation Sans" font-size="21" text-anchor="middle" fill="#1a1a1a" >End</text>
<polygon points="1072.2,475.8 1081.5,466.5 1112.1,466.5 1121.3,475.8 1112.1,485.0 1081.5,485.0" fill="#2e9d3a" /><polygon points="1123.5,477.9 1132.8,487.2 1132.8,517.9 1123.5,527.1 1114.3,517.9 1114.3,487.2" fill="#2e9d3a" /><polygon points="1123.5,531.6 1132.8,540.8 1132.8,571.5 1123.5,580.8 1114.3,571.5 1114.3,540.8" fill="#2e9d3a" /><polygon points="1072.2,583.0 1081.5,573.7 1112.1,573.7 1121.3,583.0 1112.1,592.2 1081.5,592.2" fill="#2e9d3a" /><polygon points="1070.0,531.6 1079.3,540.8 1079.3,571.5 1070.0,580.8 1060.8,571.5 1060.8,540.8" fill="#2e9d3a" /><polygon points="1070.0,477.9 1079.3,487.2 1079.3,517.9 1070.0,527.1 1060.8,517.9 1060.8,487.2" fill="#2e9d3a" /><polygon points="1072.2,529.4 1081.5,520.1 1112.1,520.1 1121.3,529.4 1112.1,538.6 1081.5,538.6" fill="#2e9d3a" />
<text x="1096.8" y="483" font-family="Liberation Sans" font-size="18.5" text-anchor="middle" fill="#dcf2d6">α</text>
<text x="1070.5" y="505" font-family="Liberation Sans" font-size="18.5" text-anchor="middle" fill="#dcf2d6">α</text>
<text x="1123.3" y="505" font-family="Liberation Sans" font-size="18.5" text-anchor="middle" fill="#dcf2d6">γ</text>
<text x="1096.8" y="535" font-family="Liberation Sans" font-size="18.5" text-anchor="middle" fill="#dcf2d6">α</text>
<text x="1070.5" y="558" font-family="Liberation Sans" font-size="18.5" text-anchor="middle" fill="#dcf2d6">β</text>
<text x="1123.3" y="558" font-family="Liberation Sans" font-size="18.5" text-anchor="middle" fill="#dcf2d6">α</text>
<text x="1096.8" y="589" font-family="Liberation Sans" font-size="18.5" text-anchor="middle" fill="#dcf2d6">α</text>
<text x="1009" y="620.8" font-family="Liberation Sans" font-size="19.5" fill="#111" textLength="161.5" lengthAdjust="spacingAndGlyphs">α: <tspan font-weight="bold">BCzBN/<tspan font-style="italic">g</tspan>CLA</tspan></text>
<text x="1009" y="648.2" font-family="Liberation Sans" font-size="19.5" fill="#111" textLength="174" lengthAdjust="spacingAndGlyphs">β: <tspan font-weight="bold">CMIOMe/<tspan font-style="italic">g</tspan>CLA</tspan></text>
<text x="1009" y="674.7" font-family="Liberation Sans" font-size="19.5" fill="#111" textLength="146" lengthAdjust="spacingAndGlyphs">γ: <tspan font-weight="bold">CzBN/<tspan font-style="italic">g</tspan>CLA</tspan></text>
<text x="386" y="670.3" font-family="Liberation Sans" font-size="21.8" fill="#1a1a1a"><tspan font-style="italic">i</tspan>: 0, 1, 2, 3</text>
<text x="529.5" y="670.3" font-family="Liberation Sans" font-size="21.8" fill="#1a1a1a"><tspan font-style="italic">j</tspan>: Green, Chartreuse</text>
<text x="775" y="670.3" font-family="Liberation Sans" font-size="21.8" fill="#1a1a1a"><tspan font-style="italic">k</tspan>: Small, Large</text>
<rect x="394.2" y="727.1" width="107.0" height="40.5" rx="0" fill="none" stroke="#1e1e1e" stroke-width="2"/>
<text x="447.7" y="754.2" font-family="Liberation Sans" font-size="21" text-anchor="middle" fill="#1a1a1a" >Ciphertext</text>
<polygon points="413.2,801.3 483.6,801.3 448.2,839.8" fill="none" stroke="#1e1e1e" stroke-width="2" stroke-linejoin="miter"/>
<polygon points="413.2,872.6 483.6,872.6 448.2,911.1" fill="none" stroke="#1e1e1e" stroke-width="2" stroke-linejoin="miter"/>
<polygon points="413.2,943.9 483.6,943.9 448.2,982.4" fill="none" stroke="#1e1e1e" stroke-width="2" stroke-linejoin="miter"/>
<polygon points="413.2,1062 483.6,1062 448.2,1100.5" fill="none" stroke="#1e1e1e" stroke-width="2" stroke-linejoin="miter"/>
<line x1="447.8" y1="767.6" x2="447.8" y2="795.3" stroke="#1e1e1e" stroke-width="2"/><polygon points="447.8,801.3 443.8,792.3 447.8,794.3 451.8,792.3" fill="#1e1e1e"/>
<line x1="448.2" y1="839.8" x2="448.2" y2="866.6" stroke="#1e1e1e" stroke-width="2"/><polygon points="448.2,872.6 444.2,863.6 448.2,865.6 452.2,863.6" fill="#1e1e1e"/>
<line x1="448.2" y1="911" x2="448.2" y2="937.9" stroke="#1e1e1e" stroke-width="2"/><polygon points="448.2,943.9 444.2,934.9 448.2,936.9 452.2,934.9" fill="#1e1e1e"/>
<line x1="448.2" y1="982.4" x2="448.2" y2="1008.7" stroke="#1e1e1e" stroke-width="2"/><polygon points="448.2,1014.7 444.2,1005.7 448.2,1007.7 452.2,1005.7" fill="#1e1e1e"/>
<line x1="447.8" y1="1020" x2="447.8" y2="1050" stroke="#1e1e1e" stroke-width="2" stroke-dasharray="1.6,1.8"/>
<line x1="548.2" y1="995.6" x2="548.2" y2="1025.6" stroke="#1e1e1e" stroke-width="2" stroke-dasharray="1.6,1.8"/>
<line x1="448.2" y1="1100.5" x2="448.2" y2="1119.4" stroke="#1e1e1e" stroke-width="2"/><polygon points="448.2,1125.4 444.2,1116.4 448.2,1118.4 452.2,1116.4" fill="#1e1e1e"/>
<ellipse cx="447.3" cy="1160.3" rx="66.7" ry="33.5" fill="none" stroke="#1e1e1e" stroke-width="2"/>
<text x="450.5" y="1166.8" font-family="Liberation Sans" font-size="21" text-anchor="middle" fill="#1a1a1a" >Plaintext</text>
<rect x="590.5" y="800.4" width="79.0" height="34.2" rx="17" fill="none" stroke="#1e1e1e" stroke-width="2"/>
<line x1="590.5" y1="817.5" x2="507.2" y2="817.5" stroke="#1e1e1e" stroke-width="2"/><polygon points="501.2,817.5 510.2,813.5 508.2,817.5 510.2,821.5" fill="#1e1e1e"/>
<text x="631.5" y="825.0" font-family="Liberation Sans" font-size="21" text-anchor="middle" fill="#1a1a1a" >Time</text>
<rect x="590.5" y="874.6" width="79.0" height="35.0" rx="17" fill="none" stroke="#1e1e1e" stroke-width="2"/>
<line x1="590.5" y1="892.1" x2="507.2" y2="892.1" stroke="#1e1e1e" stroke-width="2"/><polygon points="501.2,892.1 510.2,888.1 508.2,892.1 510.2,896.1" fill="#1e1e1e"/>
<text x="631.5" y="899.6" font-family="Liberation Sans" font-size="21" text-anchor="middle" fill="#1a1a1a" >Color</text>
<rect x="590.5" y="952" width="79.0" height="33.6" rx="17" fill="none" stroke="#1e1e1e" stroke-width="2"/>
<line x1="590.5" y1="968.8" x2="507.2" y2="968.8" stroke="#1e1e1e" stroke-width="2"/><polygon points="501.2,968.8 510.2,964.8 508.2,968.8 510.2,972.8" fill="#1e1e1e"/>
<text x="630" y="976.3" font-family="Liberation Sans" font-size="21" text-anchor="middle" fill="#1a1a1a" >FWHM</text>
<rect x="590.5" y="1067" width="79.0" height="34.0" rx="17" fill="none" stroke="#1e1e1e" stroke-width="2"/>
<line x1="590.5" y1="1084.0" x2="507.2" y2="1084.0" stroke="#1e1e1e" stroke-width="2"/><polygon points="501.2,1084.0 510.2,1080.0 508.2,1084.0 510.2,1088.0" fill="#1e1e1e"/>
<text x="631.5" y="1091.5" font-family="Liberation Sans" font-size="21" text-anchor="middle" fill="#1a1a1a" ><tspan font-style="italic">i</tspan>, <tspan font-style="italic">j</tspan>, <tspan font-style="italic">k</tspan></text>
<path d="M541.7,799.8 V795.8 A4.8,5.2 0 0 1 551.3,795.8 V799.8" fill="none" stroke="#a8a8a8" stroke-width="1.7"/><rect x="540.0" y="799.3" width="13" height="10.5" rx="1" fill="url(#lockg)"/>
<path d="M532.2,874.5 V870.5 A4.8,5.2 0 0 1 541.8,870.5 V874.5" fill="none" stroke="#a8a8a8" stroke-width="1.7"/><rect x="530.5" y="874.0" width="13" height="10.5" rx="1" fill="url(#lockg)"/>
<path d="M553.7,874.5 V870.5 A4.8,5.2 0 0 1 563.3,870.5 V874.5" fill="none" stroke="#a8a8a8" stroke-width="1.7"/><rect x="552.0" y="874.0" width="13" height="10.5" rx="1" fill="url(#lockg)"/>
<path d="M522.2,953 V949 A4.8,5.2 0 0 1 531.8,949 V953" fill="none" stroke="#a8a8a8" stroke-width="1.7"/><rect x="520.5" y="952.5" width="13" height="10.5" rx="1" fill="url(#lockg)"/>
<path d="M544.2,953 V949 A4.8,5.2 0 0 1 553.8,949 V953" fill="none" stroke="#a8a8a8" stroke-width="1.7"/><rect x="542.5" y="952.5" width="13" height="10.5" rx="1" fill="url(#lockg)"/>
<path d="M566.2,953 V949 A4.8,5.2 0 0 1 575.8,949 V953" fill="none" stroke="#a8a8a8" stroke-width="1.7"/><rect x="564.5" y="952.5" width="13" height="10.5" rx="1" fill="url(#lockg)"/>
<text x="529" y="1074" font-family="Liberation Sans" font-size="21" fill="#1a1a1a">Key</text>
<text x="895" y="734" font-family="Liberation Sans" font-size="20" text-anchor="middle" fill="#1a1a1a" font-weight="bold">Time</text>
<text x="1011.2" y="733.8" font-family="Liberation Sans" font-size="20" text-anchor="middle" fill="#1a1a1a" font-weight="bold">Color</text>
<text x="1122.6" y="733.8" font-family="Liberation Sans" font-size="20" text-anchor="middle" fill="#1a1a1a" font-weight="bold">FWHM</text>
<rect x="847" y="748.2" width="97.3" height="426.2" rx="24" fill="none" stroke="#1e1e1e" stroke-width="1.8"/>
<rect x="961.4" y="748.2" width="98.5" height="426.2" rx="24" fill="none" stroke="#1e1e1e" stroke-width="1.8"/>
<rect x="1076" y="748.2" width="99.5" height="426.2" rx="24" fill="none" stroke="#1e1e1e" stroke-width="1.8"/>
<polygon points="877.5,764.9 884.3,758.1 905.7,758.1 912.5,764.9 905.7,771.7 884.3,771.7" fill="#2e9d2e" /><polygon points="914.5,766.9 921.3,773.7 921.3,793.7 914.5,800.5 907.7,793.7 907.7,773.7" fill="#2e9d2e" /><polygon points="914.5,804.5 921.3,811.3 921.3,831.3 914.5,838.1 907.7,831.3 907.7,811.3" fill="#2e9d2e" /><polygon points="877.5,840.1 884.3,833.3 905.7,833.3 912.5,840.1 905.7,846.9 884.3,846.9" fill="#2e9d2e" /><polygon points="875.5,804.5 882.3,811.3 882.3,831.3 875.5,838.1 868.7,831.3 868.7,811.3" fill="#2e9d2e" /><polygon points="875.5,766.9 882.3,773.7 882.3,793.7 875.5,800.5 868.7,793.7 868.7,773.7" fill="#2e9d2e" /><polygon points="877.5,802.5 884.3,795.7 905.7,795.7 912.5,802.5 905.7,809.3 884.3,809.3" fill="#2e9d2e" />
<polygon points="877.5,870.8 884.3,864.0 905.7,864.0 912.5,870.8 905.7,877.6 884.3,877.6" fill="#2e9d2e" /><polygon points="914.5,872.8 921.3,879.6 921.3,899.6 914.5,906.4 907.7,899.6 907.7,879.6" fill="#2e9d2e" /><polygon points="914.5,910.4 921.3,917.2 921.3,937.2 914.5,944.0 907.7,937.2 907.7,917.2" fill="#2e9d2e" /><polygon points="877.5,946.0 884.3,939.2 905.7,939.2 912.5,946.0 905.7,952.8 884.3,952.8" fill="#2e9d2e" /><polygon points="875.5,910.4 882.3,917.2 882.3,937.2 875.5,944.0 868.7,937.2 868.7,917.2" fill="#2e9d2e" /><polygon points="875.5,872.8 882.3,879.6 882.3,899.6 875.5,906.4 868.7,899.6 868.7,879.6" fill="#2e9d2e" /><polygon points="877.5,908.4 884.3,901.6 905.7,901.6 912.5,908.4 905.7,915.2 884.3,915.2" fill="#2e9d2e" />
<polygon points="877.5,976.0 884.3,969.2 905.7,969.2 912.5,976.0 905.7,982.8 884.3,982.8" fill="#2e9d2e" /><polygon points="914.5,1015.6 921.3,1022.4 921.3,1042.4 914.5,1049.2 907.7,1042.4 907.7,1022.4" fill="#2e9d2e" /><polygon points="877.5,1051.2 884.3,1044.4 905.7,1044.4 912.5,1051.2 905.7,1058.0 884.3,1058.0" fill="#2e9d2e" /><polygon points="875.5,1015.6 882.3,1022.4 882.3,1042.4 875.5,1049.2 868.7,1042.4 868.7,1022.4" fill="#2e9d2e" /><polygon points="875.5,978.0 882.3,984.8 882.3,1004.8 875.5,1011.6 868.7,1004.8 868.7,984.8" fill="#2e9d2e" /><polygon points="877.5,1013.6 884.3,1006.8 905.7,1006.8 912.5,1013.6 905.7,1020.4 884.3,1020.4" fill="#2e9d2e" />
<polygon points="877.5,1081.4 884.3,1074.6 905.7,1074.6 912.5,1081.4 905.7,1088.2 884.3,1088.2" fill="#2e9d2e" /><polygon points="914.5,1121.0 921.3,1127.8 921.3,1147.8 914.5,1154.6 907.7,1147.8 907.7,1127.8" fill="#2e9d2e" /><polygon points="877.5,1156.6 884.3,1149.8 905.7,1149.8 912.5,1156.6 905.7,1163.4 884.3,1163.4" fill="#2e9d2e" /><polygon points="875.5,1083.4 882.3,1090.2 882.3,1110.2 875.5,1117.0 868.7,1110.2 868.7,1090.2" fill="#2e9d2e" /><polygon points="877.5,1119.0 884.3,1112.2 905.7,1112.2 912.5,1119.0 905.7,1125.8 884.3,1125.8" fill="#2e9d2e" />
<polygon points="993.9,764.9 1000.7,758.1 1022.1,758.1 1028.9,764.9 1022.1,771.7 1000.7,771.7" fill="#2e9d2e" /><polygon points="1030.9,766.9 1037.7,773.7 1037.7,793.7 1030.9,800.5 1024.1,793.7 1024.1,773.7" fill="#2e9d2e" /><polygon points="1030.9,804.5 1037.7,811.3 1037.7,831.3 1030.9,838.1 1024.1,831.3 1024.1,811.3" fill="#2e9d2e" /><polygon points="993.9,840.1 1000.7,833.3 1022.1,833.3 1028.9,840.1 1022.1,846.9 1000.7,846.9" fill="#2e9d2e" /><polygon points="991.9,804.5 998.7,811.3 998.7,831.3 991.9,838.1 985.1,831.3 985.1,811.3" fill="#2e9d2e" /><polygon points="991.9,766.9 998.7,773.7 998.7,793.7 991.9,800.5 985.1,793.7 985.1,773.7" fill="#2e9d2e" /><polygon points="993.9,802.5 1000.7,795.7 1022.1,795.7 1028.9,802.5 1022.1,809.3 1000.7,809.3" fill="#2e9d2e" />
<polygon points="993.9,870.8 1000.7,864.0 1022.1,864.0 1028.9,870.8 1022.1,877.6 1000.7,877.6" fill="#2e9d2e" /><polygon points="1030.9,872.8 1037.7,879.6 1037.7,899.6 1030.9,906.4 1024.1,899.6 1024.1,879.6" fill="#2e9d2e" /><polygon points="1030.9,910.4 1037.7,917.2 1037.7,937.2 1030.9,944.0 1024.1,937.2 1024.1,917.2" fill="#2e9d2e" /><polygon points="993.9,946.0 1000.7,939.2 1022.1,939.2 1028.9,946.0 1022.1,952.8 1000.7,952.8" fill="#2e9d2e" /><polygon points="991.9,872.8 998.7,879.6 998.7,899.6 991.9,906.4 985.1,899.6 985.1,879.6" fill="#2e9d2e" /><polygon points="993.9,908.4 1000.7,901.6 1022.1,901.6 1028.9,908.4 1022.1,915.2 1000.7,915.2" fill="#2e9d2e" />
<polygon points="993.9,976.0 1000.7,969.2 1022.1,969.2 1028.9,976.0 1022.1,982.8 1000.7,982.8" fill="#2e9d2e" /><polygon points="1030.9,1015.6 1037.7,1022.4 1037.7,1042.4 1030.9,1049.2 1024.1,1042.4 1024.1,1022.4" fill="#2e9d2e" /><polygon points="993.9,1051.2 1000.7,1044.4 1022.1,1044.4 1028.9,1051.2 1022.1,1058.0 1000.7,1058.0" fill="#2e9d2e" /><polygon points="991.9,978.0 998.7,984.8 998.7,1004.8 991.9,1011.6 985.1,1004.8 985.1,984.8" fill="#2e9d2e" /><polygon points="993.9,1013.6 1000.7,1006.8 1022.1,1006.8 1028.9,1013.6 1022.1,1020.4 1000.7,1020.4" fill="#2e9d2e" />
<polygon points="993.9,1081.4 1000.7,1074.6 1022.1,1074.6 1028.9,1081.4 1022.1,1088.2 1000.7,1088.2" fill="#2e9d2e" /><polygon points="1030.9,1121.0 1037.7,1127.8 1037.7,1147.8 1030.9,1154.6 1024.1,1147.8 1024.1,1127.8" fill="#2e9d2e" /><polygon points="993.9,1156.6 1000.7,1149.8 1022.1,1149.8 1028.9,1156.6 1022.1,1163.4 1000.7,1163.4" fill="#2e9d2e" /><polygon points="991.9,1083.4 998.7,1090.2 998.7,1110.2 991.9,1117.0 985.1,1110.2 985.1,1090.2" fill="#2e9d2e" /><polygon points="993.9,1119.0 1000.7,1112.2 1022.1,1112.2 1028.9,1119.0 1022.1,1125.8 1000.7,1125.8" fill="#2e9d2e" />
<polygon points="1107.4,764.9 1114.2,758.1 1135.6,758.1 1142.4,764.9 1135.6,771.7 1114.2,771.7" fill="#2e9d2e" /><polygon points="1144.4,766.9 1151.2,773.7 1151.2,793.7 1144.4,800.5 1137.6,793.7 1137.6,773.7" fill="#2e9d2e" /><polygon points="1144.4,804.5 1151.2,811.3 1151.2,831.3 1144.4,838.1 1137.6,831.3 1137.6,811.3" fill="#2e9d2e" /><polygon points="1107.4,840.1 1114.2,833.3 1135.6,833.3 1142.4,840.1 1135.6,846.9 1114.2,846.9" fill="#2e9d2e" /><polygon points="1105.4,766.9 1112.2,773.7 1112.2,793.7 1105.4,800.5 1098.6,793.7 1098.6,773.7" fill="#2e9d2e" /><polygon points="1107.4,802.5 1114.2,795.7 1135.6,795.7 1142.4,802.5 1135.6,809.3 1114.2,809.3" fill="#2e9d2e" />
<polygon points="1107.4,870.8 1114.2,864.0 1135.6,864.0 1142.4,870.8 1135.6,877.6 1114.2,877.6" fill="#2e9d2e" /><polygon points="1144.4,910.4 1151.2,917.2 1151.2,937.2 1144.4,944.0 1137.6,937.2 1137.6,917.2" fill="#2e9d2e" /><polygon points="1107.4,946.0 1114.2,939.2 1135.6,939.2 1142.4,946.0 1135.6,952.8 1114.2,952.8" fill="#2e9d2e" /><polygon points="1105.4,872.8 1112.2,879.6 1112.2,899.6 1105.4,906.4 1098.6,899.6 1098.6,879.6" fill="#2e9d2e" /><polygon points="1107.4,908.4 1114.2,901.6 1135.6,901.6 1142.4,908.4 1135.6,915.2 1114.2,915.2" fill="#2e9d2e" />
<polygon points="1107.4,976.0 1114.2,969.2 1135.6,969.2 1142.4,976.0 1135.6,982.8 1114.2,982.8" fill="#2e9d2e" /><polygon points="1144.4,1015.6 1151.2,1022.4 1151.2,1042.4 1144.4,1049.2 1137.6,1042.4 1137.6,1022.4" fill="#2e9d2e" /><polygon points="1107.4,1051.2 1114.2,1044.4 1135.6,1044.4 1142.4,1051.2 1135.6,1058.0 1114.2,1058.0" fill="#2e9d2e" /><polygon points="1105.4,978.0 1112.2,984.8 1112.2,1004.8 1105.4,1011.6 1098.6,1004.8 1098.6,984.8" fill="#2e9d2e" /><polygon points="1107.4,1013.6 1114.2,1006.8 1135.6,1006.8 1142.4,1013.6 1135.6,1020.4 1114.2,1020.4" fill="#2e9d2e" />
<polygon points="1107.4,1081.4 1114.2,1074.6 1135.6,1074.6 1142.4,1081.4 1135.6,1088.2 1114.2,1088.2" fill="#2e9d2e" /><polygon points="1144.4,1121.0 1151.2,1127.8 1151.2,1147.8 1144.4,1154.6 1137.6,1147.8 1137.6,1127.8" fill="#2e9d2e" /><polygon points="1107.4,1156.6 1114.2,1149.8 1135.6,1149.8 1142.4,1156.6 1135.6,1163.4 1114.2,1163.4" fill="#2e9d2e" /><polygon points="1105.4,1083.4 1112.2,1090.2 1112.2,1110.2 1105.4,1117.0 1098.6,1110.2 1098.6,1090.2" fill="#2e9d2e" /><polygon points="1107.4,1119.0 1114.2,1112.2 1135.6,1112.2 1142.4,1119.0 1135.6,1125.8 1114.2,1125.8" fill="#2e9d2e" />
<rect x="776" y="755.5" width="53.3" height="92.2" fill="#020605"/>
<polygon points="786.3,763.1 792.9,756.5 812.5,756.5 819.1,763.1 812.5,769.7 792.9,769.7" fill="#40e2da" /><polygon points="821.5,765.5 828.1,772.1 828.1,792.6 821.5,799.2 814.9,792.6 814.9,772.1" fill="#40dcd8" /><polygon points="821.5,804.0 828.1,810.6 828.1,831.1 821.5,837.7 814.9,831.1 814.9,810.6" fill="#3cd8d4" /><polygon points="786.3,840.1 792.9,833.5 812.5,833.5 819.1,840.1 812.5,846.7 792.9,846.7" fill="#44e0d8" /><polygon points="783.9,804.0 790.5,810.6 790.5,831.1 783.9,837.7 777.3,831.1 777.3,810.6" fill="#40d8d8" /><polygon points="783.9,765.5 790.5,772.1 790.5,792.6 783.9,799.2 777.3,792.6 777.3,772.1" fill="#3ed8d6" /><polygon points="786.3,801.6 792.9,795.0 812.5,795.0 819.1,801.6 812.5,808.2 792.9,808.2" fill="#44e0da" />
<rect x="776" y="862.6" width="53.3" height="92.2" fill="#020605"/>
<polygon points="786.3,870.2 792.9,863.6 812.5,863.6 819.1,870.2 812.5,876.8 792.9,876.8" fill="#2aa890" /><polygon points="821.5,872.6 828.1,879.2 828.1,899.7 821.5,906.3 814.9,899.7 814.9,879.2" fill="#1e7858" /><polygon points="821.5,911.1 828.1,917.7 828.1,938.2 821.5,944.8 814.9,938.2 814.9,917.7" fill="#3ab088" /><polygon points="786.3,947.2 792.9,940.6 812.5,940.6 819.1,947.2 812.5,953.8 792.9,953.8" fill="#5cc4a0" /><polygon points="783.9,911.1 790.5,917.7 790.5,938.2 783.9,944.8 777.3,938.2 777.3,917.7" fill="#4ea070" /><polygon points="783.9,872.6 790.5,879.2 790.5,899.7 783.9,906.3 777.3,899.7 777.3,879.2" fill="#2a9880" /><polygon points="786.3,908.7 792.9,902.1 812.5,902.1 819.1,908.7 812.5,915.3 792.9,915.3" fill="#2aa890" />
<rect x="776" y="969.4" width="53.3" height="92.2" fill="#020605"/>
<polygon points="786.3,977.0 792.9,970.4 812.5,970.4 819.1,977.0 812.5,983.6 792.9,983.6" fill="#1c8474" /><polygon points="821.5,979.4 828.1,986.0 828.1,1006.5 821.5,1013.1 814.9,1006.5 814.9,986.0" fill="#040806" /><polygon points="821.5,1017.9 828.1,1024.5 828.1,1045.0 821.5,1051.6 814.9,1045.0 814.9,1024.5" fill="#1c8070" /><polygon points="786.3,1054.0 792.9,1047.4 812.5,1047.4 819.1,1054.0 812.5,1060.6 792.9,1060.6" fill="#1e8a78" /><polygon points="783.9,1017.9 790.5,1024.5 790.5,1045.0 783.9,1051.6 777.3,1045.0 777.3,1024.5" fill="#0c4830" /><polygon points="783.9,979.4 790.5,986.0 790.5,1006.5 783.9,1013.1 777.3,1006.5 777.3,986.0" fill="#1c8070" /><polygon points="786.3,1015.5 792.9,1008.9 812.5,1008.9 819.1,1015.5 812.5,1022.1 792.9,1022.1" fill="#1e8474" />
<rect x="776" y="1077" width="53.3" height="92.2" fill="#020605"/>
<polygon points="786.3,1084.6 792.9,1078.0 812.5,1078.0 819.1,1084.6 812.5,1091.2 792.9,1091.2" fill="#0a302a" /><polygon points="821.5,1087.0 828.1,1093.6 828.1,1114.1 821.5,1120.7 814.9,1114.1 814.9,1093.6" fill="#020504" /><polygon points="821.5,1125.5 828.1,1132.1 828.1,1152.6 821.5,1159.2 814.9,1152.6 814.9,1132.1" fill="#0a342e" /><polygon points="786.3,1161.6 792.9,1155.0 812.5,1155.0 819.1,1161.6 812.5,1168.2 792.9,1168.2" fill="#0a322c" /><polygon points="783.9,1125.5 790.5,1132.1 790.5,1152.6 783.9,1159.2 777.3,1152.6 777.3,1132.1" fill="#06140f" /><polygon points="783.9,1087.0 790.5,1093.6 790.5,1114.1 783.9,1120.7 777.3,1114.1 777.3,1093.6" fill="#0a2c26" /><polygon points="786.3,1123.1 792.9,1116.5 812.5,1116.5 819.1,1123.1 812.5,1129.7 792.9,1129.7" fill="#0a2e28" />
<rect x="767" y="755.5" width="2.2" height="404" fill="url(#tlg)"/>
<polygon points="762.5,1157 773.5,1157 768,1168" fill="#c82040"/>
<rect x="762" y="800.0" width="6" height="1.6" fill="#40a080"/>
<rect x="762" y="906.6" width="6" height="1.6" fill="#90b040"/>
<rect x="762" y="1016.2" width="6" height="1.6" fill="#e09040"/>
<rect x="762" y="1123.8" width="6" height="1.6" fill="#c83060"/>
<text transform="translate(731,840.5) rotate(-90)" font-family="Liberation Sans" font-size="21" fill="#1a1a1a">UV on</text>
<text transform="translate(756,815.5) rotate(-90)" font-family="Liberation Sans" font-size="21" fill="#1a1a1a">0 s</text>
<text transform="translate(756,922) rotate(-90)" font-family="Liberation Sans" font-size="21" fill="#1a1a1a">1 s</text>
<text transform="translate(731,1056.5) rotate(-90)" font-family="Liberation Sans" font-size="21" fill="#1a1a1a">UV off</text>
<text transform="translate(756,1031.5) rotate(-90)" font-family="Liberation Sans" font-size="21" fill="#1a1a1a">2 s</text>
<text transform="translate(756,1139.5) rotate(-90)" font-family="Liberation Sans" font-size="21" fill="#1a1a1a">3 s</text>
<text x="800" y="1200.5" font-family="Liberation Sans" font-size="21.5" fill="#1a1a1a">Multiple encryption-decryption</text>
</svg></body></html>
